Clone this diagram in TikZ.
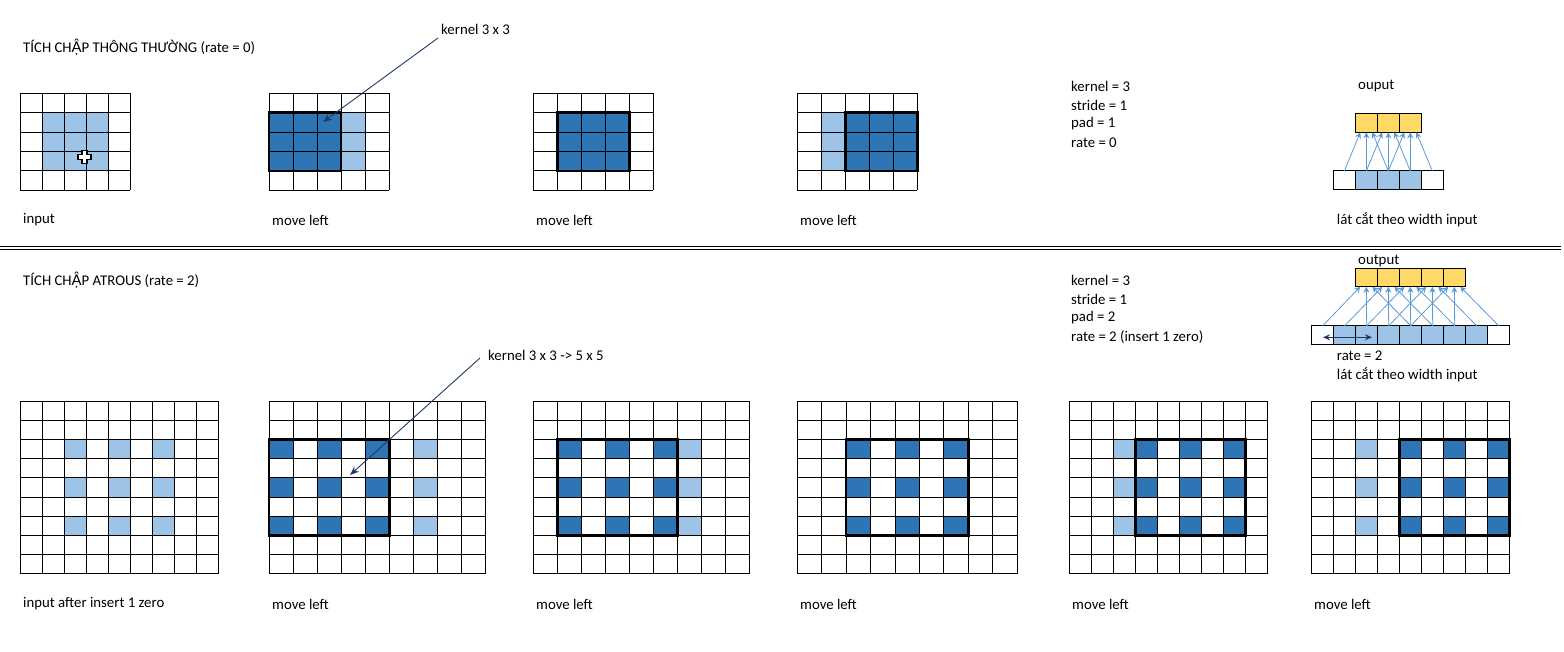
\documentclass[tikz,border=0pt]{standalone}
\usepackage{fontspec}
\setmainfont{Carlito}
\newfontfamily\latofont{Lato}
\usetikzlibrary{arrows.meta,calc}
\definecolor{darkcell}{HTML}{2E75B6}
\definecolor{lightcell}{HTML}{9DC3E6}
\definecolor{outcell}{HTML}{FFD966}
\definecolor{linkblue}{HTML}{5B9BD5}
\definecolor{navy}{HTML}{203864}

\begin{document}
\begin{tikzpicture}[x=1pt,y=-1pt]
\tikzstyle{txt}=[anchor=west,inner sep=0pt,yshift=-1pt,font=\fontsize{14.8}{17}\selectfont]
\tikzstyle{gridline}=[black,line width=1pt]
\tikzstyle{kbox}=[black,line width=2.4pt]
\tikzstyle{cell}=[draw=black,line width=1pt,minimum width=22pt,minimum height=19pt,inner sep=0pt,outer sep=0pt]
\tikzstyle{link}=[linkblue,line width=0.8pt,-{Stealth[length=6pt,width=6pt]}]
\tikzstyle{pointer}=[navy,line width=0.9pt,-{Stealth[length=9pt,width=7pt]}]

\useasboundingbox (0,0) rectangle (1564,652);

% ---- top: normal convolution
\node [txt] (title0) at (23,46) {TÍCH CH{\latofont Ậ}P THÔNG THƯỜNG (rate = 0)};

% input
\begin{scope}[shift={(20,93.3)},x=22pt,y=-19.4pt]
\foreach \c in {1,2,3} \foreach \r in {1,2,3} \fill[lightcell] (\c,\r) rectangle ++(1,1);
\foreach \i in {0,...,5} {\draw[gridline] (\i,0) -- (\i,5); \draw[gridline] (0,\i) -- (5,\i);}
\end{scope}
\draw[black,fill=white,line width=1.1pt] (82,150.8) -- (87,150.8) -- (87,154.8) -- (91,154.8) -- (91,159.8) -- (87,159.8) -- (87,163.8) -- (82,163.8) -- (82,159.8) -- (78,159.8) -- (78,154.8) -- (82,154.8) -- cycle;

% move 1
\begin{scope}[shift={(269,93.3)},x=24pt,y=-19.4pt]
\foreach \r in {1,2,3} {\fill[lightcell] (3,\r) rectangle ++(1,1); \fill[darkcell] (0,\r) rectangle (3,\r+1);}
\foreach \i in {0,...,5} {\draw[gridline] (\i,0) -- (\i,5); \draw[gridline] (0,\i) -- (5,\i);}
\draw[kbox] (0,1) rectangle (3,4);
\end{scope}

% move 2
\begin{scope}[shift={(533.3,93.3)},x=24pt,y=-19.4pt]
\fill[darkcell] (1,1) rectangle (4,4);
\foreach \i in {0,...,5} {\draw[gridline] (\i,0) -- (\i,5); \draw[gridline] (0,\i) -- (5,\i);}
\draw[kbox] (1,1) rectangle (4,4);
\end{scope}

% move 3
\begin{scope}[shift={(797.3,93.3)},x=24pt,y=-19.4pt]
\fill[lightcell] (1,1) rectangle (2,4);
\fill[darkcell] (2,1) rectangle (5,4);
\foreach \i in {0,...,5} {\draw[gridline] (\i,0) -- (\i,5); \draw[gridline] (0,\i) -- (5,\i);}
\draw[kbox] (2,1) rectangle (5,4);
\end{scope}

\node [txt] (in0) at (23,219) {input};
\node [txt] (mv01) at (272,219) {move left};
\node [txt] (mv02) at (536,219) {move left};
\node [txt] (mv03) at (800,219) {move left};

\node [txt] (k0) at (441,28) {kernel 3 x 3};
\coordinate (k0start) at (438,38);
\coordinate (k0tip) at (323,122);
\draw[pointer] (k0start) -- (k0tip);

\node [txt] (p01) at (1071,85) {kernel = 3};
\node [txt] (p02) at (1071,104) {stride = 1};
\node [txt] (p03) at (1071,123) {pad = 1};
\node [txt] (p04) at (1071,142) {rate = 0};

% width slice, rate 0
\node [txt] (out0) at (1358,85) {ouput};
\foreach \i/\col in {0/white,1/lightcell,2/lightcell,3/lightcell,4/white}
  \node [cell,fill=\col] (tin-\i) at ({1344.3+22*\i},180.5) {};
\foreach \j in {0,1,2}
  \node [cell,fill=outcell] (tout-\j) at ({1366.3+22*\j},122.8) {};
\foreach \j in {0,1,2} \foreach \k in {0,1,2} {
  \pgfmathtruncatemacro{\i}{\j+\k}
  \draw[link] (tin-\i.north) -- ($(tout-\j.south)+({(\k-1)*6},0)$);
}
\node [txt] (sl0) at (1336.7,219) {lát cắt theo width input};

% separator
\draw[black,line width=1pt] (0,246.3) -- (1561,246.3);
\draw[black,line width=1pt] (0,249.6) -- (1561,249.6);

% ---- bottom: atrous convolution
\node [txt] (title2) at (23,279) {TÍCH CH{\latofont Ậ}P ATROUS (rate = 2)};

\node [txt] (p21) at (1071,279) {kernel = 3};
\node [txt] (p22) at (1071,298) {stride = 1};
\node [txt] (p23) at (1071,317) {pad = 2};
\node [txt] (p24) at (1071,336) {rate = 2 (insert 1 zero)};

% width slice, rate 2
\node [txt] (out2) at (1358,260) {output};
\foreach \i/\col in {0/white,1/lightcell,2/lightcell,3/lightcell,4/lightcell,5/lightcell,6/lightcell,7/lightcell,8/white}
  \node [cell,fill=\col,minimum height=18.3pt] (bin-\i) at ({1322.7+22*\i},334.9) {};
\foreach \j in {0,...,4}
  \node [cell,fill=outcell,minimum height=18.4pt] (bout-\j) at ({1366.3+22*\j},277.5) {};
\foreach \j in {0,...,4} \foreach \k in {0,1,2} {
  \pgfmathtruncatemacro{\i}{\j+2*\k}
  \draw[link] (bin-\i.north) -- ($(bout-\j.south)+({(\k-1)*6},0)$);
}
\coordinate (rleft) at (1323,337.3);
\coordinate (rright) at (1372,337.3);
\draw[navy,line width=1pt,{Stealth[length=7pt,width=6pt]}-{Stealth[length=7pt,width=6pt]}] (rleft) -- (rright);
\node [txt] (rt2) at (1336.7,355) {rate = 2};
\node [txt] (sl2) at (1336.7,373.3) {lát cắt theo width input};

% input with zeros
\begin{scope}[shift={(20,401)},x=22pt,y=-19.22pt]
\foreach \c in {2,4,6} \foreach \r in {2,4,6} \fill[lightcell] (\c,\r) rectangle ++(1,1);
\foreach \i in {0,...,9} {\draw[gridline] (\i,0) -- (\i,9); \draw[gridline] (0,\i) -- (9,\i);}
\end{scope}

% move 1
\begin{scope}[shift={(269,401)},x=24.07pt,y=-19.22pt]
\foreach \r in {2,4,6} {
  \foreach \c in {0,2,4} \fill[darkcell] (\c,\r) rectangle ++(1,1);
  \fill[lightcell] (6,\r) rectangle ++(1,1);
}
\foreach \i in {0,...,9} {\draw[gridline] (\i,0) -- (\i,9); \draw[gridline] (0,\i) -- (9,\i);}
\draw[kbox] (0,2) rectangle (5,7);
\end{scope}

% move 2
\begin{scope}[shift={(533.3,401)},x=24pt,y=-19.22pt]
\foreach \r in {2,4,6} {
  \foreach \c in {1,3,5} \fill[darkcell] (\c,\r) rectangle ++(1,1);
  \fill[lightcell] (6,\r) rectangle ++(1,1);
}
\foreach \i in {0,...,9} {\draw[gridline] (\i,0) -- (\i,9); \draw[gridline] (0,\i) -- (9,\i);}
\draw[kbox] (1,2) rectangle (6,7);
\end{scope}

% move 3
\begin{scope}[shift={(797.3,401)},x=24.44pt,y=-19.22pt]
\foreach \r in {2,4,6} \foreach \c in {2,4,6} \fill[darkcell] (\c,\r) rectangle ++(1,1);
\foreach \i in {0,...,9} {\draw[gridline] (\i,0) -- (\i,9); \draw[gridline] (0,\i) -- (9,\i);}
\draw[kbox] (2,2) rectangle (7,7);
\end{scope}

% move 4
\begin{scope}[shift={(1069.3,401)},x=22pt,y=-19.22pt]
\foreach \r in {2,4,6} {
  \foreach \c in {3,5,7} \fill[darkcell] (\c,\r) rectangle ++(1,1);
  \fill[lightcell] (2,\r) rectangle ++(1,1);
}
\foreach \i in {0,...,9} {\draw[gridline] (\i,0) -- (\i,9); \draw[gridline] (0,\i) -- (9,\i);}
\draw[kbox] (3,2) rectangle (8,7);
\end{scope}

% move 5
\begin{scope}[shift={(1311.3,401)},x=22pt,y=-19.22pt]
\foreach \r in {2,4,6} {
  \foreach \c in {4,6,8} \fill[darkcell] (\c,\r) rectangle ++(1,1);
  \fill[lightcell] (2,\r) rectangle ++(1,1);
}
\foreach \i in {0,...,9} {\draw[gridline] (\i,0) -- (\i,9); \draw[gridline] (0,\i) -- (9,\i);}
\draw[kbox] (4,2) rectangle (9,7);
\end{scope}

\node [txt] (k2) at (488,354) {kernel 3 x 3 -> 5 x 5};
\coordinate (k2start) at (480,358);
\coordinate (k2tip) at (350,475);
\draw[pointer] (k2start) -- (k2tip);

\node [txt] (in2) at (23,603) {input after insert 1 zero};
\node [txt] (mv21) at (272,603) {move left};
\node [txt] (mv22) at (536,603) {move left};
\node [txt] (mv23) at (800,603) {move left};
\node [txt] (mv24) at (1072,603) {move left};
\node [txt] (mv25) at (1314,603) {move left};
\end{tikzpicture}
\end{document}
